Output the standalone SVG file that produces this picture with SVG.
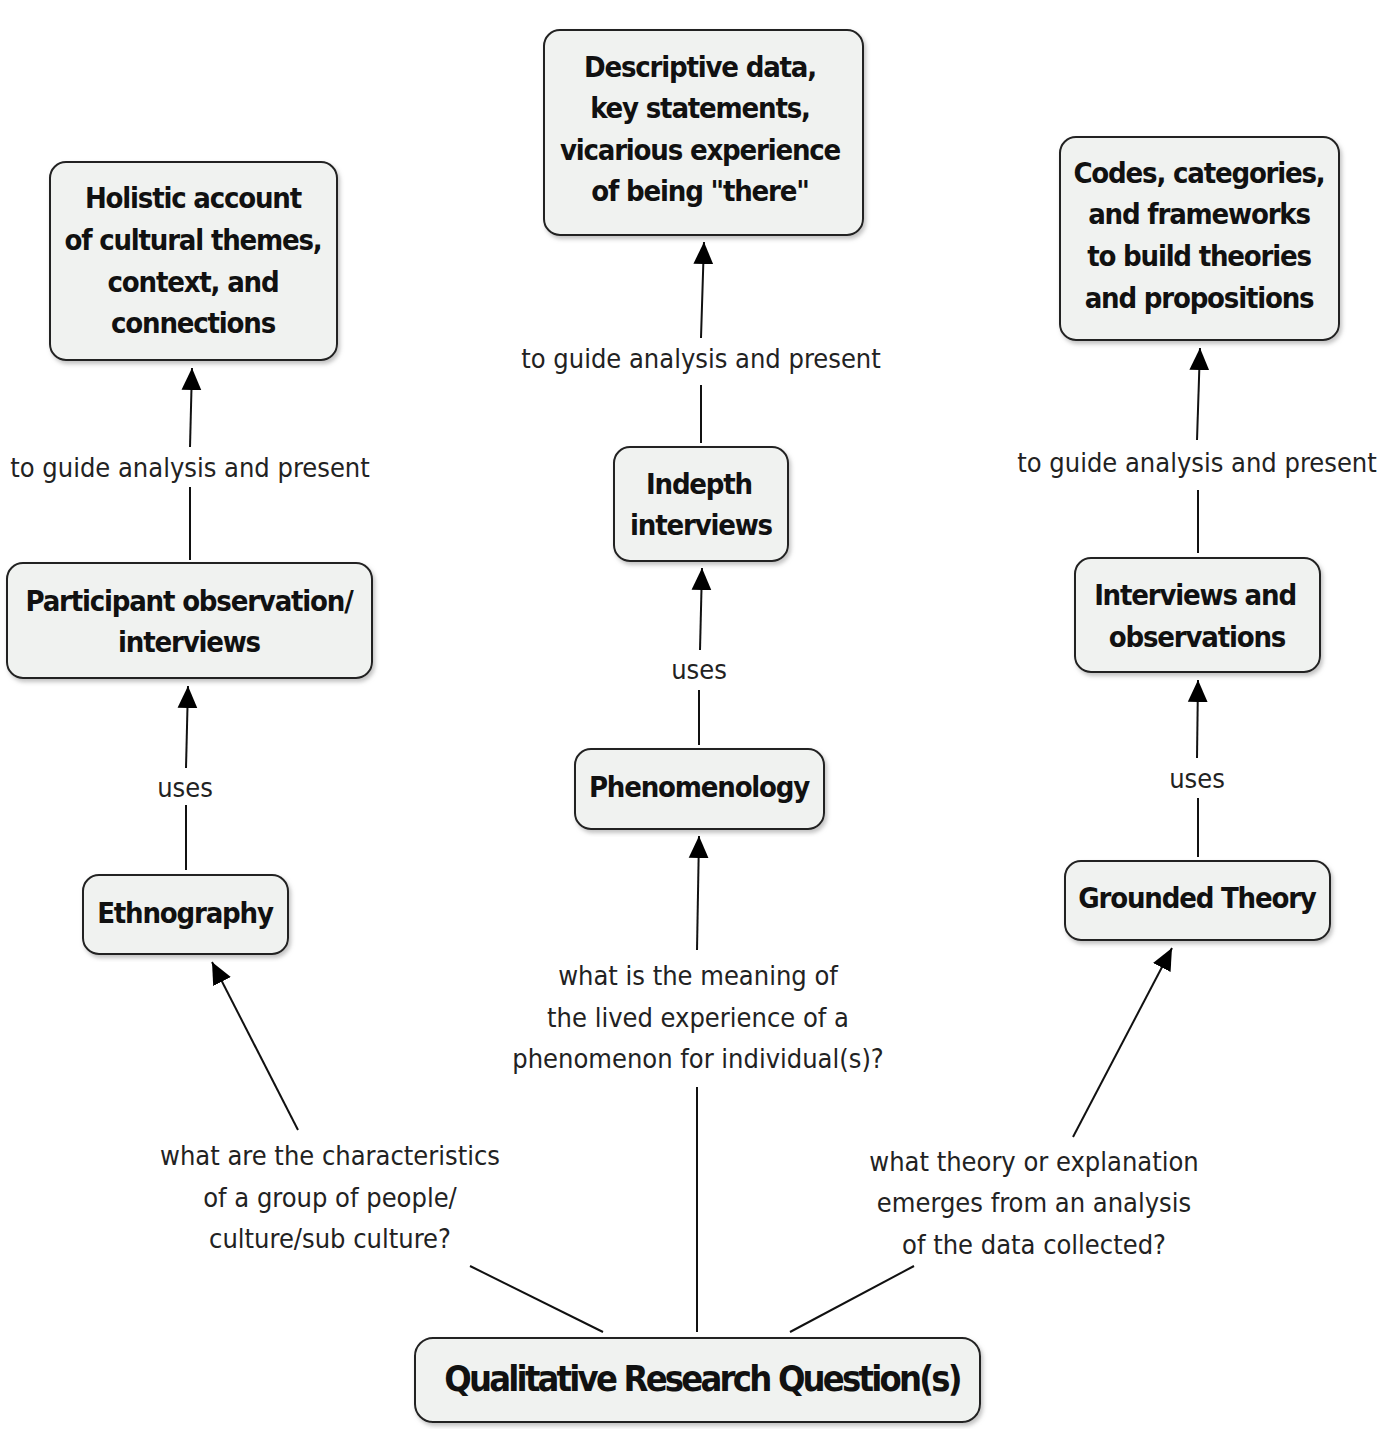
<svg xmlns="http://www.w3.org/2000/svg" width="1382" height="1429" viewBox="0 0 1382 1429">
<defs>
<marker id="a" viewBox="0 0 20 20" refX="20" refY="10" markerWidth="22" markerHeight="22" markerUnits="userSpaceOnUse" orient="auto"><path d="M0,1 L20,10 L0,19 z" fill="#000"/></marker>
<filter id="sh"><feDropShadow dx="2" dy="3" stdDeviation="2" flood-color="#999" flood-opacity="0.6"/></filter>
</defs>
<style>
.n rect{fill:#f0f2f0;stroke:#222;stroke-width:2;filter:url(#sh)}
.n text{font-family:"DejaVu Sans Condensed","DejaVu Sans",sans-serif;font-stretch:condensed;font-weight:bold;font-size:29px;letter-spacing:-1.2px;text-anchor:middle;dominant-baseline:central;fill:#111}
.l{font-family:"DejaVu Sans Condensed","DejaVu Sans",sans-serif;font-stretch:condensed;font-size:27px;text-anchor:middle;dominant-baseline:central;fill:#222}
#c line{stroke:#111;stroke-width:2}
</style>
<rect width="1382" height="1429" fill="#fff"/>
<g id="c">
<line x1="186" y1="870" x2="186" y2="805"/><line x1="186" y1="768" x2="188" y2="686" marker-end="url(#a)"/>
<line x1="190" y1="560" x2="190" y2="487"/><line x1="190" y1="447" x2="192" y2="368" marker-end="url(#a)"/>
<line x1="699" y1="745" x2="699" y2="690"/><line x1="700" y1="650" x2="702" y2="568" marker-end="url(#a)"/>
<line x1="701" y1="443" x2="701" y2="385"/><line x1="701" y1="338" x2="704" y2="242" marker-end="url(#a)"/>
<line x1="1198" y1="857" x2="1198" y2="798"/><line x1="1197" y1="758" x2="1198" y2="680" marker-end="url(#a)"/>
<line x1="1198" y1="553" x2="1198" y2="490"/><line x1="1197" y1="440" x2="1200" y2="348" marker-end="url(#a)"/>
<line x1="603" y1="1332" x2="470" y2="1266"/><line x1="298" y1="1130" x2="212" y2="962" marker-end="url(#a)"/>
<line x1="697" y1="1332" x2="697" y2="1087"/><line x1="697" y1="950" x2="699" y2="836" marker-end="url(#a)"/>
<line x1="790" y1="1332" x2="914" y2="1266"/><line x1="1073" y1="1137" x2="1172" y2="948" marker-end="url(#a)"/>
</g>
<g id="labels">
<text class="l" x="185" y="787">uses</text>
<text class="l" x="190" y="467">to guide analysis and present</text>
<text class="l" x="699" y="669">uses</text>
<text class="l" x="701" y="358">to guide analysis and present</text>
<text class="l" x="1197" y="778">uses</text>
<text class="l" x="1197" y="462">to guide analysis and present</text>
<text class="l" x="330" y="1155">what are the characteristics</text>
<text class="l" x="330" y="1197">of a group of people/</text>
<text class="l" x="330" y="1238">culture/sub culture?</text>
<text class="l" x="698" y="975">what is the meaning of</text>
<text class="l" x="698" y="1017">the lived experience of a</text>
<text class="l" x="698" y="1058">phenomenon for individual(s)?</text>
<text class="l" x="1034" y="1161">what theory or explanation</text>
<text class="l" x="1034" y="1202">emerges from an analysis</text>
<text class="l" x="1034" y="1244">of the data collected?</text>
</g>
<g id="holistic" class="n"><rect x="50" y="162" width="287" height="198" rx="16"/><text x="193" y="198">Holistic account</text><text x="193" y="240">of cultural themes,</text><text x="193" y="282">context, and</text><text x="193" y="323">connections</text></g>
<g id="descriptive" class="n"><rect x="544" y="30" width="319" height="205" rx="16"/><text x="700" y="67">Descriptive data,</text><text x="700" y="108">key statements,</text><text x="700" y="150">vicarious experience</text><text x="700" y="191">of being "there"</text></g>
<g id="codes" class="n"><rect x="1060" y="137" width="279" height="203" rx="16"/><text x="1199" y="173">Codes, categories,</text><text x="1199" y="214">and frameworks</text><text x="1199" y="256">to build theories</text><text x="1199" y="298">and propositions</text></g>
<g id="participant" class="n"><rect x="7" y="563" width="365" height="115" rx="16"/><text x="189" y="601">Participant observation/</text><text x="189" y="642">interviews</text></g>
<g id="indepth" class="n"><rect x="614" y="447" width="174" height="114" rx="16"/><text x="699" y="484">Indepth</text><text x="701" y="525">interviews</text></g>
<g id="intobs" class="n"><rect x="1075" y="558" width="245" height="114" rx="16"/><text x="1195" y="595">Interviews and</text><text x="1197" y="637">observations</text></g>
<g id="phenomenology" class="n"><rect x="575" y="749" width="249" height="80" rx="16"/><text x="699" y="787">Phenomenology</text></g>
<g id="ethnography" class="n"><rect x="83" y="875" width="205" height="79" rx="16"/><text x="185" y="913">Ethnography</text></g>
<g id="grounded" class="n"><rect x="1065" y="861" width="265" height="79" rx="16"/><text x="1197" y="898">Grounded Theory</text></g>
<g id="qrq" class="n"><rect x="415" y="1338" width="565" height="84" rx="18"/><text x="702" y="1378" style="font-size:36px;letter-spacing:-2.8px">Qualitative Research Question(s)</text></g>
</svg>
